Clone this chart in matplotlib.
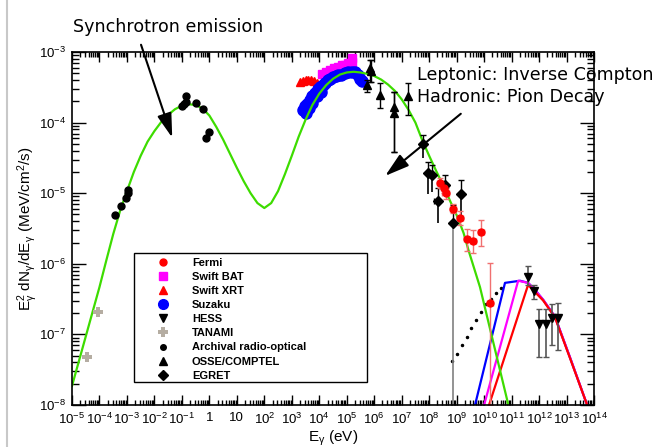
import numpy as np
import matplotlib
matplotlib.use('Agg')
import matplotlib.pyplot as plt
from matplotlib.lines import Line2D
from matplotlib.patches import Rectangle
from matplotlib.ticker import FuncFormatter, LogLocator, NullFormatter

plt.rcParams['font.family'] = 'Liberation Sans'
plt.rcParams['mathtext.fontset'] = 'custom'
plt.rcParams['mathtext.rm'] = 'Liberation Sans'
plt.rcParams['mathtext.it'] = 'Liberation Sans:italic'
plt.rcParams['mathtext.bf'] = 'Liberation Sans:bold'
plt.rcParams['mathtext.default'] = 'regular'

# all values are log10(E/eV), log10(E^2 dN/dE / MeV cm^-2 s^-1)
# green model: synchrotron + inverse compton
green_x = [-5.0, -4.5, -4.0, -3.75, -3.5, -3.25, -3.0, -2.75, -2.5, -2.25, -2.0, -1.75, -1.5,
           -1.25, -1.0, -0.75, -0.5, -0.25, 0.0, 0.25, 0.5, 0.75, 1.0, 1.25, 1.5, 1.75, 2.0,
           2.25, 2.5, 2.75, 3.0, 3.25, 3.5, 3.75, 4.0, 4.25, 4.5, 4.75, 5.0, 5.25, 5.5, 5.75,
           6.0, 6.25, 6.5, 6.75, 7.0, 7.25, 7.5, 7.75, 8.0, 8.25, 8.5, 8.75, 9.0, 9.25, 9.45,
           9.85, 10.84, 10.9]
green_y = [-7.73, -7.03, -6.33, -5.95, -5.58, -5.25, -4.97, -4.70, -4.47, -4.27, -4.12, -3.99,
           -3.89, -3.81, -3.76, -3.74, -3.75, -3.80, -3.90, -4.06, -4.24, -4.44, -4.64, -4.83,
           -5.00, -5.14, -5.21, -5.14, -4.97, -4.73, -4.47, -4.20, -3.96, -3.75, -3.59, -3.47,
           -3.38, -3.32, -3.29, -3.28, -3.29, -3.31, -3.34, -3.39, -3.46, -3.55, -3.67, -3.82,
           -4.00, -4.25, -4.47, -4.68, -4.88, -5.10, -5.31, -5.56, -5.83, -6.33, -7.93, -8.05]

# pion decay models
blue_x = [9.67, 10.76, 11.31, 11.60, 11.85, 12.15, 12.58, 13.13, 13.75]
blue_y = [-8.0, -6.27, -6.24, -6.27, -6.37, -6.51, -6.75, -7.33, -8.0]
mag_x = [10.0, 11.24, 11.60, 11.85, 12.15, 12.58, 13.13, 13.75]
mag_y = [-8.0, -6.24, -6.27, -6.37, -6.51, -6.75, -7.33, -8.0]
red_x = [10.18, 11.60, 11.85, 12.15, 12.58, 13.13, 13.75]
red_y = [-8.0, -6.30, -6.40, -6.52, -6.76, -7.34, -8.0]

dot_x = [8.83, 9.0, 9.2, 9.38, 9.52, 9.70, 9.89, 10.07, 10.25, 10.44, 10.62]
dot_y = [-7.38, -7.28, -7.15, -7.04, -6.91, -6.80, -6.68, -6.57, -6.50, -6.41, -6.34]

# data
radio_x = [-3.43, -3.22, -3.02, -2.97, -2.96, -1.0, -0.92, -0.85, -0.85, -0.49, -0.23, -0.12, -0.01]
radio_y = [-5.31, -5.18, -5.07, -5.0, -4.96, -3.76, -3.74, -3.62, -3.71, -3.72, -3.81, -4.22, -4.13]

tanami_x = [-4.45, -4.05]
tanami_y = [-7.32, -6.68]

xrt_x = [3.30, 3.40, 3.50, 3.60, 3.70, 3.80, 3.90]
xrt_y = [-3.43, -3.41, -3.40, -3.40, -3.40, -3.41, -3.44]

bat_x = [4.10, 4.25, 4.39, 4.55, 4.68, 4.82, 4.94, 5.06, 5.19, 5.19]
bat_y = [-3.31, -3.28, -3.25, -3.23, -3.21, -3.19, -3.18, -3.16, -3.14, -3.09]

suzaku_x = [3.42, 3.48, 3.55, 3.66, 3.75, 3.85, 3.95, 4.03, 4.12, 4.21, 4.30, 4.39, 4.50,
            4.60, 4.68, 4.80, 4.94, 5.05, 5.19, 5.30, 5.41, 5.50, 5.56,
            3.50, 3.62, 3.75, 3.90, 4.05]
suzaku_y = [-3.82, -3.76, -3.74, -3.68, -3.63, -3.58, -3.53, -3.50, -3.47, -3.44, -3.40, -3.38,
            -3.36, -3.34, -3.33, -3.32, -3.30, -3.29, -3.28, -3.29, -3.33, -3.38, -3.41,
            -3.86, -3.80, -3.72, -3.63, -3.56]

osse_x = [5.85, 5.88, 5.74, 6.21, 6.72, 6.72, 7.23]
osse_y = [-3.22, -3.27, -3.47, -3.61, -3.78, -3.87, -3.62]
osse_lo = [-3.42, -3.42, -3.57, -3.79, -4.42, -4.42, -3.89]
osse_hi = [-3.12, -3.12, -3.40, -3.44, -3.57, -3.57, -3.44]

egret_x = [7.78, 7.96, 8.10, 8.32, 8.58, 8.87, 9.16]
egret_y = [-4.30, -4.71, -4.74, -5.11, -4.88, -5.42, -5.01]
egret_lo = [-4.50, -5.01, -4.98, -5.42, -5.03, -8.0, -5.40]
egret_hi = [-4.18, -4.56, -4.60, -4.93, -4.74, -5.17, -4.81]

fermi_x = [8.40, 8.55, 8.60, 8.87, 9.12, 9.38, 9.60, 9.89, 10.22]
fermi_y = [-4.86, -4.93, -5.0, -5.22, -5.35, -5.65, -5.68, -5.55, -6.56]
fermi_lo = [-4.93, -5.0, -5.08, -5.28, -5.45, -5.82, -5.85, -5.75, -8.0]
fermi_hi = [-4.78, -4.85, -4.92, -5.16, -5.25, -5.50, -5.52, -5.38, -5.99]

hess_x = [11.60, 11.82, 12.00, 12.25, 12.47, 12.69]
hess_y = [-6.19, -6.39, -6.85, -6.85, -6.77, -6.77]
hess_lo = [-6.30, -6.50, -7.32, -7.32, -7.15, -7.22]
hess_hi = [-6.03, -6.30, -6.64, -6.64, -6.57, -6.55]

labels = ['Fermi', 'Swift BAT', 'Swift XRT', 'Suzaku', 'HESS', 'TANAMI',
          'Archival radio-optical', 'OSSE/COMPTEL', 'EGRET']


def p(a):
    return 10 ** np.array(a, dtype=float)


def yerr(y, lo, hi):
    return [p(y) - p(lo), p(hi) - p(y)]


fig = plt.figure(figsize=(6.58, 4.47), dpi=100)
ax = fig.add_axes([72/658, 1-405/447, 522/658, 353/447])
ax.set_xscale('log')
ax.set_yscale('log')

# x-ray data first, model drawn on top
ax.plot(p(xrt_x), p(xrt_y), '^', color='red', ms=6, mec='red', ls='none')
ax.plot(p(bat_x), p(bat_y), 's', color='magenta', ms=6, mec='magenta', ls='none')
ax.plot(p(suzaku_x), p(suzaku_y), 'o', color='blue', ms=8, mec='blue', ls='none')

ax.plot(p(dot_x), p(dot_y), '.', color='black', ms=3, ls='none')
ax.plot(p(blue_x), p(blue_y), color='blue', lw=1.6)
ax.plot(p(mag_x), p(mag_y), color='magenta', lw=1.6)
ax.plot(p(red_x), p(red_y), color='red', lw=1.6)
ax.plot(p(green_x), p(green_y), color='#3ddc00', lw=1.6)

ax.plot(p(radio_x), p(radio_y), 'o', color='black', ms=5, ls='none')
ax.plot(p(tanami_x), p(tanami_y), 'P', color='#b5ada2', ms=7, mew=0, ls='none')

ax.errorbar(p(osse_x), p(osse_y), yerr=yerr(osse_y, osse_lo, osse_hi), fmt='^', color='black',
            ms=6, elinewidth=1, capsize=2)

# egret: lower bar of the 8.87 point is drawn grey
e_err = yerr(egret_y, egret_lo, egret_hi)
ax.errorbar(p(egret_x), p(egret_y), yerr=[np.zeros(len(egret_x)), e_err[1]], fmt='D', color='black',
            ms=5, elinewidth=1, capsize=2)
ecol = ['black' if lo > -7.9 else 'grey' for lo in egret_lo]
ax.vlines(p(egret_x), p(egret_lo), p(egret_y), colors=ecol, lw=1.2)
ax.errorbar(p(egret_x[3]), p(egret_y[3]), xerr=[[p(egret_x[3]) - p(egret_x[3] - 0.15)], [0]],
            fmt='none', ecolor='black', elinewidth=1, capsize=2)

ax.errorbar(p(fermi_x), p(fermi_y), yerr=yerr(fermi_y, fermi_lo, fermi_hi),
            xerr=[p(fermi_x) - p(np.array(fermi_x) - 0.12), p(np.array(fermi_x) + 0.12) - p(fermi_x)],
            fmt='o', color='red', ecolor='#f07070', ms=5, elinewidth=1, capsize=2)

ax.errorbar(p(hess_x), p(hess_y), yerr=yerr(hess_y, hess_lo, hess_hi), fmt='v', color='black',
            ecolor='#555555', ms=6, elinewidth=1.2, capsize=2)

ax.set_xlim(1e-5, 1e14)
ax.set_ylim(1e-8, 1e-3)

ax.xaxis.set_major_locator(LogLocator(base=10, numticks=30))
ax.xaxis.set_minor_locator(LogLocator(base=10, subs=np.arange(2, 10), numticks=30))
ax.xaxis.set_minor_formatter(NullFormatter())


def fmt(v, pos):
    n = int(round(np.log10(v)))
    if n == 0:
        return '1'
    if n == 1:
        return '10'
    return '10$^{%d}$' % n


ax.xaxis.set_major_formatter(FuncFormatter(fmt))
ax.yaxis.set_major_formatter(FuncFormatter(fmt))
ax.tick_params(which='both', direction='in', top=True, right=True, labelsize=9.5, width=1)
ax.tick_params(axis='x', which='major', length=7, pad=5)
ax.tick_params(axis='x', which='minor', length=3.5)
ax.tick_params(axis='y', which='major', length=10, pad=4)
ax.tick_params(axis='y', which='minor', length=5)
for s in ax.spines.values():
    s.set_linewidth(1.2)

ax.set_xlabel('E$_\\gamma$ (eV)', fontsize=11, labelpad=1)
ax.set_ylabel('E$_\\gamma^2$ dN$_\\gamma$/dE$_\\gamma$ (MeV/cm$^2$/s)', fontsize=11)
ax.yaxis.set_label_coords(-0.062, 0.5)

# legend: markers only, inside a fixed box
handles = [
    Line2D([], [], marker='o', color='red', ls='none', ms=5),
    Line2D([], [], marker='s', color='magenta', ls='none', ms=6),
    Line2D([], [], marker='^', color='red', ls='none', ms=6),
    Line2D([], [], marker='o', color='blue', ls='none', ms=7),
    Line2D([], [], marker='v', color='black', ls='none', ms=6),
    Line2D([], [], marker='P', color='#b5ada2', ls='none', ms=7, mew=0),
    Line2D([], [], marker='o', color='black', ls='none', ms=4),
    Line2D([], [], marker='^', color='black', ls='none', ms=6),
    Line2D([], [], marker='D', color='black', ls='none', ms=5),
]
leg = ax.legend(handles, labels, loc='upper left', bbox_to_anchor=(150/658, 1-257.5/447),
                bbox_transform=fig.transFigure, borderaxespad=0, borderpad=0, frameon=False,
                prop={'weight': 'bold', 'size': 8}, labelspacing=0.375, handletextpad=1.44,
                handlelength=2.34)
fig.add_artist(Rectangle((134/658, 1-382/447), 233/658, 129/447, transform=fig.transFigure,
                         fill=False, ec='black', lw=1))

# annotations
fig.text(73/658, 1-27/447, 'Synchrotron emission', family='DejaVu Sans', fontsize=12.6, va='center')
fig.text(417/658, 1-75/447, 'Leptonic: Inverse Compton', family='DejaVu Sans', fontsize=12.6, va='center')
fig.text(417/658, 1-97/447, 'Hadronic: Pion Decay', family='DejaVu Sans', fontsize=12.6, va='center')
arrow = dict(arrowstyle='-|>,head_length=0.87,head_width=0.26', color='black', lw=1.5,
             mutation_scale=17)
ax.annotate('', xy=(10**-1.32, 10**-4.25), xytext=(10**-2.52, 10**-2.86), annotation_clip=False,
            arrowprops=arrow)
ax.annotate('', xy=(10**6.32, 10**-4.78), xytext=(10**9.23, 10**-3.85), annotation_clip=False,
            arrowprops=arrow)

fig.add_artist(Line2D([7/658, 7/658], [0, 1], color='#c8c8c8', lw=1.5))

fig.savefig('out.png', dpi=100)
